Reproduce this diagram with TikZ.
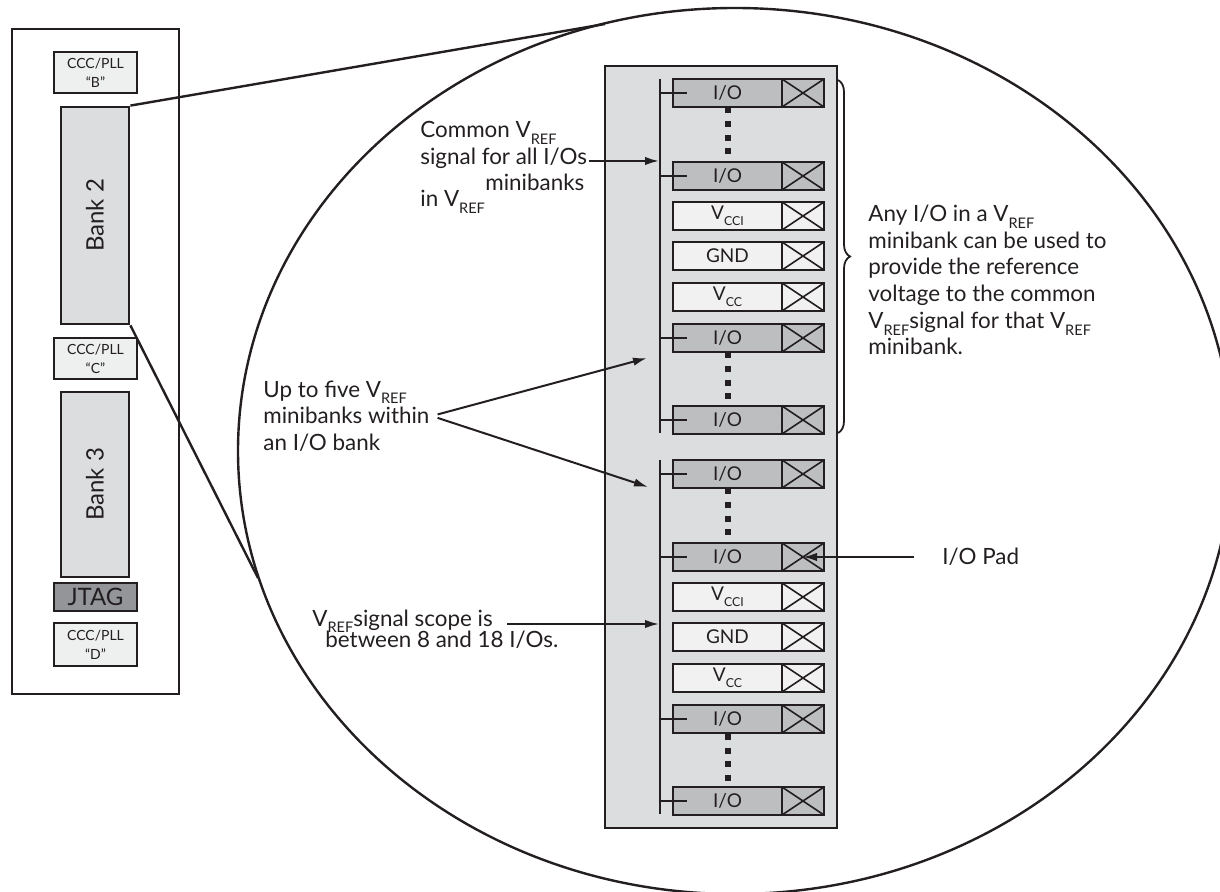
\documentclass[tikz,border=0pt]{standalone}
\usepackage{fontspec}
\setmainfont{Lato}
\usetikzlibrary{arrows.meta,decorations.pathreplacing}

\definecolor{ink}{HTML}{231F20}
\definecolor{colbg}{HTML}{DCDDDF}
\definecolor{iofill}{HTML}{BCBEC0}
\definecolor{pwrfill}{HTML}{F1F1F2}
\definecolor{cccfill}{HTML}{EEEFEF}
\definecolor{jtagfill}{HTML}{939598}

\newcommand{\subtxt}[1]{\raisebox{-0.6ex}{\scalebox{0.65}{#1}}}
\newcommand{\Vref}{V\subtxt{REF}}
\newcommand{\Vcci}{V\subtxt{CCI}}
\newcommand{\Vcc}{V\subtxt{CC}}
\newcommand{\IOtxt}{I/O}

\tikzset{
  blk/.style={draw=ink, line width=1.4pt, inner sep=0pt, align=center, text=ink},
  cccbox/.style={blk, fill=cccfill, minimum width=41.5pt, minimum height=20.5pt,
    font=\fontsize{7}{9.5}\selectfont},
  bankbox/.style={blk, fill=colbg, minimum width=34pt, font=\fontsize{12}{14}\selectfont},
  jtagbox/.style={blk, fill=jtagfill, minimum width=41.5pt, minimum height=14pt,
    font=\fontsize{12}{14}\selectfont},
  rowlab/.style={blk, minimum width=54.5pt, minimum height=14pt, font=\fontsize{9.5}{10}\selectfont},
  rowpad/.style={blk, minimum width=21pt, minimum height=14pt,
    path picture={\draw[ink, line width=0.8pt]
      (path picture bounding box.north west) -- (path picture bounding box.south east)
      (path picture bounding box.south west) -- (path picture bounding box.north east);}},
  iolab/.style={rowlab, fill=iofill},
  iopad/.style={rowpad, fill=iofill},
  pwrlab/.style={rowlab, fill=pwrfill},
  pwrpad/.style={rowpad, fill=pwrfill},
  bus/.style={draw=ink, line width=1pt},
  tap/.style={draw=ink, line width=0.8pt},
  note/.style={inner sep=1pt, text=ink, font=\fontsize{11.2}{13.35}\selectfont},
  arr/.style={draw=ink, line width=1pt, -{Latex[length=7pt,width=4.2pt]}},
  zoomline/.style={draw=ink, line width=1.2pt},
  bracket/.style={draw=ink, line width=0.9pt, decorate, decoration={brace, amplitude=6pt}}
}

\begin{document}
\begin{tikzpicture}[x=0.5pt, y=-0.5pt]
  \useasboundingbox (0,0) rectangle (1220,892);
  \clip (0,0) rectangle (1220,892);

  % device edge
  \draw[ink, line width=1.2pt] (12,29) rectangle (179,694);
  \node[cccbox] (cccB) at (95.5,72.5) {CCC/PLL\\“B”};
  \node[bankbox, minimum height=108.5pt] (bank2) at (95,215.5) {\rotatebox{90}{Bank 2}};
  \node[cccbox] (cccC) at (95.5,358.5) {CCC/PLL\\“C”};
  \node[bankbox, minimum height=92.5pt] (bank3) at (95,484.5) {\rotatebox{90}{Bank 3}};
  \node[jtagbox] (jtag) at (95.5,597) {JTAG};
  \node[cccbox, minimum height=21.5pt] (cccD) at (95.5,644.5) {CCC/PLL\\“D”};

  % magnified view
  \draw[ink, line width=1.2pt] (735,451) ellipse [x radius=248.5pt, y radius=221.5pt];
  \coordinate (zt) at (605,24);
  \coordinate (zb) at (258,578);
  \draw[zoomline] (bank2.north east) -- (zt);
  \draw[zoomline] (bank2.south east) -- (zb);

  % I/O bank column
  \draw[ink, line width=1.4pt, fill=colbg] (605,66) rectangle (837,828);

  % two minibanks
  \foreach \g in {0,381}{
    \draw[bus] (660,{79+\g}) -- (660,{433+\g});
    \foreach \y / \kind / \lbl [count=\n] in {
      93/io/\IOtxt,
      176/io/\IOtxt,
      216/pwr/\Vcci,
      256/pwr/GND,
      297/pwr/\Vcc,
      338/io/\IOtxt,
      420/io/\IOtxt
    }{
      \node[\kind lab] (lab\g-\n) at (727.5,{\y+\g}) {\lbl};
      \node[\kind pad] (pad\g-\n) at (803,{\y+\g}) {};
    }
    \foreach \n in {1,2,6,7}{
      \draw[tap] (lab\g-\n.west) ++(-13,0) -- ++(28,0);
    }
    \foreach \d in {3.5,17.5,31,44.5}{
      \fill[ink] (725,{107+\g+\d-3}) rectangle ++(6,6);
      \fill[ink] (725,{352+\g+\d-3}) rectangle ++(6,6);
    }
  }

  \draw[bracket] (838,80) -- (838,433);

  % callouts
  \node[note, anchor=base west] (cmA) at (418,138) {Common \Vref};
  \node[note, anchor=base west] (cmB) at (418,165) {signal for all I/Os};
  \node[note, anchor=base west] (cmC) at (483,191) {minibanks};
  \node[note, anchor=base west] (cmD) at (418,207) {in \Vref};
  \coordinate (busA) at (659,161);
  \draw[arr] (cmB.east |- busA) -- (busA);

  \node[note, align=left, anchor=west] (five) at (261,416) {Up to five \Vref\\minibanks within\\an I/O bank};
  \coordinate (tipU) at (647,358);
  \coordinate (tipL) at (648,487);
  \draw[arr, shorten <=3pt] (five.east) -- (tipU);
  \draw[arr, shorten <=3pt] (five.east) -- (tipL);

  \node[note, anchor=base west] (scA) at (310,626) {\Vref signal scope is};
  \node[note, anchor=base west] (scB) at (323,647) {between 8 and 18 I/Os.};
  \coordinate (busC) at (659,624);
  \draw[arr, shorten <=6pt] (scA.east |- busC) -- (busC);

  \node[note, align=left, anchor=west] (anyio) at (866,280) {Any I/O in a \Vref\\minibank can be used to\\provide the reference\\voltage to the common\\\Vref signal for that \Vref\\minibank.};

  \node[note, anchor=west] (padlbl) at (940,557) {I/O Pad};
  \draw[arr, shorten <=13pt] (padlbl.west) -- (pad381-2.center);
\end{tikzpicture}
\end{document}
